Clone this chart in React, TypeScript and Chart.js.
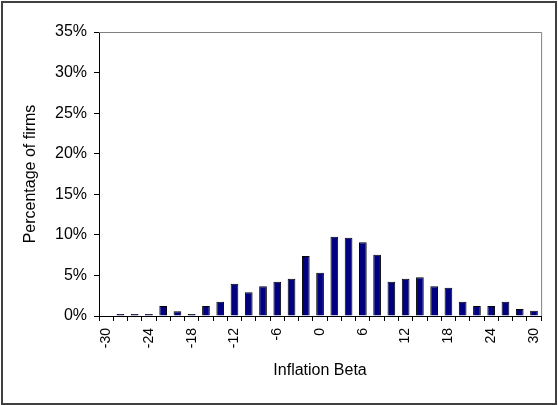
import { useEffect, useRef } from 'react'
import Chart from 'chart.js/auto'

// inflation beta buckets, -30 .. 30 in steps of 2
const betas = [
  -30, -28, -26, -24, -22, -20, -18, -16, -14, -12, -10, -8, -6, -4, -2, 0,
  2, 4, 6, 8, 10, 12, 14, 16, 18, 20, 22, 24, 26, 28, 30,
]
// percentage of firms in each bucket
const pctFirms = [
  0, 0.25, 0.25, 0.25, 1.23, 0.6, 0.25, 1.23, 1.76, 3.98, 2.92, 3.66, 4.23, 4.6, 7.4, 5.34,
  9.78, 9.65, 9.09, 7.56, 4.23, 4.6, 4.77, 3.66, 3.49, 1.76, 1.23, 1.23, 1.76, 0.86, 0.66,
]
const yTicks = [0, 5, 10, 15, 20, 25, 30, 35]

const FONT = '"Liberation Sans", Arial, sans-serif'

export default function App() {
  const canvasRef = useRef<HTMLCanvasElement>(null)
  const chartRef = useRef<Chart | null>(null)

  useEffect(() => {
    document.body.style.margin = '0'
    if (!canvasRef.current) return
    const ctx = canvasRef.current.getContext('2d')
    if (!ctx) return

    if (chartRef.current) chartRef.current.destroy()

    chartRef.current = new Chart(ctx, {
      type: 'bar',
      data: {
        labels: betas.map(String),
        datasets: [
          {
            label: 'Percentage of firms',
            data: pctFirms,
            backgroundColor: '#000080',
            borderColor: '#000000',
            borderWidth: 1,
            barPercentage: 0.54,
            categoryPercentage: 1,
          },
        ],
      },
      options: {
        responsive: false,
        animation: false,
        layout: { padding: { left: 0, top: 32, right: 13, bottom: 0 } },
        plugins: {
          legend: { display: false },
          tooltip: { enabled: false },
        },
        scales: {
          x: {
            afterFit: (s) => {
              s.height = 89
            },
            grid: { drawOnChartArea: false, tickLength: 5, color: '#000' },
            border: { color: '#000', width: 1 },
            ticks: {
              autoSkip: false,
              maxRotation: 90,
              minRotation: 90,
              padding: 7,
              color: '#000',
              font: { family: FONT, size: 14 },
              callback: (_v, i) => (i % 3 === 0 ? String(betas[i]) : ''),
            },
            title: {
              display: true,
              text: 'Inflation Beta',
              color: '#000',
              font: { family: FONT, size: 16 },
              padding: { top: 0, bottom: 25 },
            },
          },
          y: {
            min: 0,
            max: 35,
            afterFit: (s) => {
              s.width = 99
            },
            afterBuildTicks: (s) => {
              s.ticks = yTicks.map((v) => ({ value: v }))
            },
            grid: { drawOnChartArea: false, tickLength: 5, color: '#000' },
            border: { color: '#000', width: 1 },
            ticks: {
              padding: 7,
              color: '#000',
              font: { family: FONT, size: 16 },
              callback: (v) => v + '%',
            },
            title: {
              display: true,
              text: 'Percentage of firms',
              color: '#000',
              font: { family: FONT, size: 16 },
              padding: { top: 21, bottom: 0 },
            },
          },
        },
      },
      plugins: [
        {
          id: 'frames',
          afterDraw: (chart) => {
            const c = chart.ctx
            const { left, right, top, bottom } = chart.chartArea
            c.save()
            // grey plot-area frame on top and right
            c.strokeStyle = '#808080'
            c.lineWidth = 1
            c.beginPath()
            c.moveTo(left, top + 0.5)
            c.lineTo(right + 0.5, top + 0.5)
            c.lineTo(right + 0.5, bottom)
            c.stroke()
            // outer chart border
            c.strokeStyle = '#404040'
            c.lineWidth = 2
            c.strokeRect(2, 2, chart.width - 4, chart.height - 3)
            c.restore()
          },
        },
      ],
    })

    return () => {
      if (chartRef.current) {
        chartRef.current.destroy()
        chartRef.current = null
      }
    }
  }, [])

  return <canvas ref={canvasRef} width={558} height={405} />
}
